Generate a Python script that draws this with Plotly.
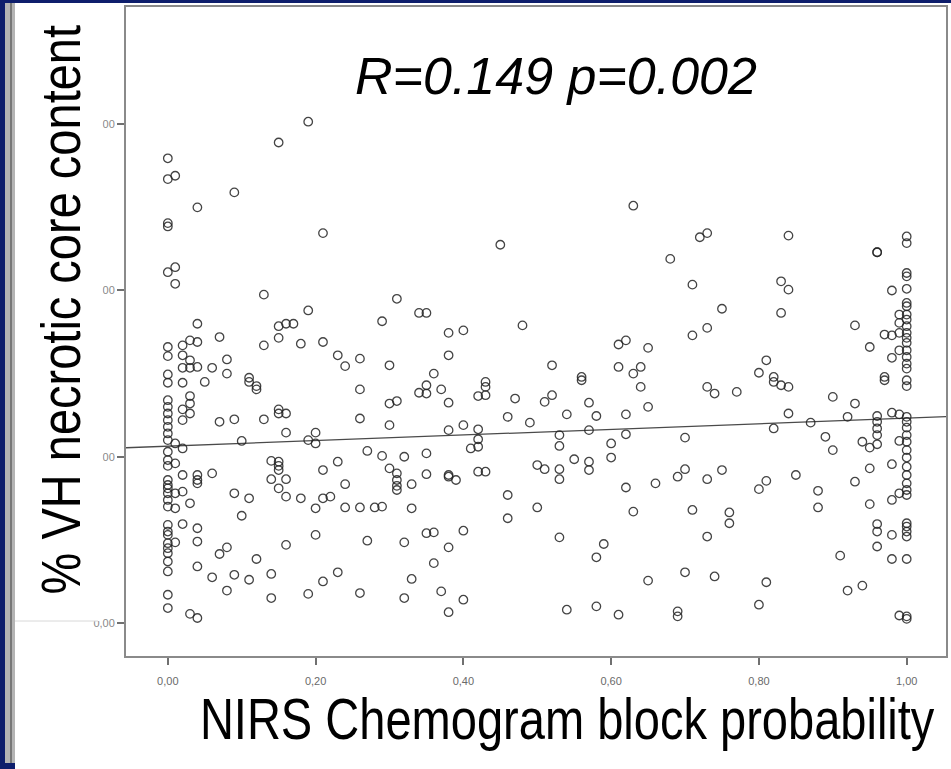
import plotly.graph_objects as go

# ---- data ----
# left cluster: (block probability, [necrotic core %, ...])
left_cluster = [
    (0.00, [55.9, 53.4, 48.1, 47.7, 42.2, 33.2, 32.1, 29.9, 28.9, 26.8, 26.0, 25.2, 24.4, 23.6,
            22.8, 22.0, 20.6, 19.6, 18.9, 17.2, 16.6, 16.2, 15.6, 14.8, 14.0, 11.8, 11.0, 10.6,
            9.6, 9.0, 8.4, 7.4, 6.2, 3.4, 1.8]),
    (0.01, [53.8, 42.8, 40.8, 21.6, 19.2, 15.6, 13.8, 9.7]),
    (0.02, [33.4, 32.2, 30.7, 28.9, 25.7, 24.4, 21.0, 17.8, 15.8, 11.9]),
    (0.03, [34.0, 31.6, 30.7, 27.3, 26.4, 25.2, 14.4, 1.1]),
    (0.04, [50.0, 36.0, 33.8, 30.8, 17.8, 17.2, 16.8, 11.4, 9.8, 6.8, 0.6]),
    (0.05, [29.0]),
    (0.06, [30.7, 18.0, 5.5]),
    (0.07, [34.4, 24.2, 8.3]),
    (0.08, [31.7, 30.0, 9.1, 3.9]),
    (0.09, [51.8, 24.5, 15.6, 5.8]),
]

middle = [
    (0.10, [21.9, 12.9]),
    (0.11, [29.5, 29.0, 15.0, 5.2]),
    (0.12, [28.5, 28.1, 7.7]),
    (0.13, [39.5, 33.4, 24.5]),
    (0.14, [19.5, 17.3, 5.9, 3.0]),
    (0.15, [57.8, 35.7, 34.3, 25.7, 25.2, 19.4, 18.9, 18.4, 16.2]),
    (0.16, [36.0, 25.2, 22.9, 17.3, 15.2, 9.4]),
    (0.17, [36.0]),
    (0.18, [33.6, 15.0]),
    (0.19, [60.3, 37.6, 22.0, 3.5]),
    (0.20, [22.9, 21.6, 13.8, 10.6]),
    (0.21, [46.9, 33.8, 18.4, 15.0, 5.0]),
    (0.22, [15.2]),
    (0.23, [32.2, 19.4, 6.1]),
    (0.24, [30.9, 16.7, 13.9]),
    (0.26, [31.8, 28.1, 24.6, 13.9, 3.6]),
    (0.27, [20.7, 9.9]),
    (0.28, [13.9]),
    (0.29, [36.3, 20.1, 14.0]),
    (0.30, [31.0, 26.4, 23.8, 18.6]),
    (0.31, [39.0, 26.7, 18.0, 17.2, 16.5, 16.0]),
    (0.32, [20.0, 9.7, 3.0]),
    (0.33, [16.7, 13.8, 5.3]),
    (0.34, [27.7, 37.3]),
    (0.35, [37.3, 28.6, 27.6, 20.4, 17.9, 10.8]),
    (0.36, [30.0, 10.9, 7.2]),
    (0.37, [28.1, 3.8]),
    (0.38, [34.9, 32.2, 26.5, 23.2, 17.8, 17.6, 9.1, 1.3]),
    (0.39, [17.2]),
    (0.40, [35.2, 23.8, 11.1, 2.8]),
    (0.41, [21.0]),
    (0.42, [27.3, 23.3, 22.1, 21.2, 18.2]),
    (0.43, [29.0, 28.4, 27.4, 18.2]),
    (0.45, [45.5]),
    (0.46, [24.8, 15.4, 12.6]),
    (0.47, [27.0]),
    (0.48, [35.8]),
    (0.49, [24.1]),
    (0.50, [19.0, 13.9]),
    (0.51, [26.6, 18.5]),
    (0.52, [31.0, 27.4]),
    (0.53, [22.6, 21.3, 18.5, 17.3, 10.3]),
    (0.54, [25.1, 1.6]),
    (0.55, [19.7]),
    (0.56, [29.6, 29.2]),
    (0.57, [26.5, 23.2, 19.4, 18.4]),
    (0.58, [24.9, 7.9, 2.0]),
    (0.59, [9.5]),
    (0.60, [21.6, 19.9]),
    (0.61, [33.5, 30.8, 1.0]),
    (0.62, [34.0, 25.1, 22.7, 16.3]),
    (0.63, [50.2, 30.0, 13.4]),
    (0.64, [30.8, 28.4]),
    (0.65, [33.1, 26.0, 5.1]),
    (0.66, [16.8]),
    (0.68, [43.8]),
    (0.69, [17.6, 1.4, 0.8]),
    (0.70, [22.3, 18.5, 6.1]),
    (0.71, [40.7, 34.6, 13.6]),
    (0.72, [46.4]),
    (0.73, [46.9, 35.5, 28.4, 17.3, 10.4]),
    (0.74, [27.6, 5.6]),
    (0.75, [37.8, 18.4]),
    (0.76, [13.3, 12.0]),
    (0.77, [27.8]),
    (0.80, [30.1, 16.1, 2.2]),
    (0.81, [31.6, 17.1, 4.9]),
    (0.82, [29.6, 29.0, 23.4]),
    (0.83, [41.1, 37.3, 28.6]),
    (0.84, [46.6, 40.1, 28.4, 25.2]),
    (0.85, [17.8]),
    (0.87, [24.1]),
    (0.88, [15.9, 13.9]),
    (0.89, [22.4]),
    (0.90, [27.2, 20.8]),
    (0.91, [8.1]),
    (0.92, [24.8, 3.9]),
    (0.93, [35.8, 26.4, 17.0]),
    (0.94, [21.8, 4.5]),
]

right_cluster = [
    (0.95, [33.2, 21.1, 18.6, 14.3]),
    (0.96, [44.6, 44.6, 24.9, 24.2, 23.4, 22.6, 21.5, 11.9, 11.0, 9.2]),
    (0.97, [34.7, 29.6, 29.2]),
    (0.98, [40.0, 34.6, 31.9, 25.3, 19.1, 14.8, 10.6, 7.7]),
    (0.99, [37.1, 36.1, 34.9, 32.8, 25.1, 21.9, 15.6, 0.9]),
    (1.00, [46.5, 45.7, 42.1, 41.7, 40.2, 38.5, 38.1, 37.1, 36.5, 35.7, 34.9, 34.3, 33.7, 32.8,
            32.0, 31.2, 30.6, 29.2, 28.5, 24.8, 24.2, 23.5, 22.6, 21.8, 20.8, 19.9, 18.8, 17.8,
            16.8, 16.0, 15.4, 12.0, 11.6, 11.0, 10.4, 7.7, 0.8, 0.5]),
]

fit_intercept = 21.27
fit_slope = 3.37

x_tick_vals = [0.0, 0.2, 0.4, 0.6, 0.8, 1.0]
x_tick_text = ["0,00", "0,20", "0,40", "0,60", "0,80", "1,00"]
y_tick_vals = [0, 20, 40, 60]
y_tick_text = ["0,00", "20,00", "40,00", "60,00"]

stat_text = "R=0.149 p=0.002"
y_title = "% VH necrotic core content"
x_title = "NIRS Chemogram block probability"

x_range = [-0.0566, 1.0532]
y_range = [-3.97, 74.1]

# ---- build ----
xs, ys = [], []
for group in (left_cluster, middle, right_cluster):
    for xv, yvals in group:
        for yv in yvals:
            xs.append(xv)
            ys.append(yv)

W, H = 951, 769
def px(x):
    return x / W
def py(y):
    return 1 - y / H

fig = go.Figure()
fig.add_trace(go.Scatter(
    x=x_range, y=[fit_intercept + fit_slope * v for v in x_range],
    mode="lines", line=dict(color="#4a4a4a", width=1.3), hoverinfo="skip", showlegend=False))
fig.add_trace(go.Scatter(
    x=xs, y=ys, mode="markers",
    marker=dict(symbol="circle-open", size=8.5, color="rgba(35,35,35,0.85)", line=dict(width=1.3)),
    showlegend=False))

sans = "Liberation Sans, Arial, sans-serif"

fig.update_layout(
    width=W, height=H, autosize=False,
    margin=dict(l=0, r=0, t=0, b=0),
    paper_bgcolor="#0e1e6c",
    plot_bgcolor="white",
    xaxis=dict(domain=[px(126), px(946)], range=x_range, tickvals=x_tick_vals, ticktext=x_tick_text,
               ticks="outside", ticklen=7, tickwidth=1.5, tickcolor="#707070",
               ticklabelstandoff=7,
               showline=True, linecolor="#8a8a8a", linewidth=2, mirror=True,
               showgrid=False, zeroline=False,
               tickfont=dict(family=sans, size=11, color="#6a6a6a")),
    yaxis=dict(domain=[py(656), py(7)], range=y_range, tickvals=y_tick_vals, ticktext=y_tick_text,
               ticks="outside", ticklen=7, tickwidth=1.5, tickcolor="#707070",
               showline=True, linecolor="#8a8a8a", linewidth=2, mirror=True,
               showgrid=False, zeroline=False,
               tickfont=dict(family=sans, size=11, color="#8a8a8a")),
    shapes=[
        dict(type="rect", xref="paper", yref="paper", x0=px(15), x1=1, y0=0, y1=py(3),
             fillcolor="white", line=dict(width=0), layer="below"),
        dict(type="rect", xref="paper", yref="paper", x0=px(5), x1=px(15), y0=py(763), y1=py(3),
             fillcolor="#b4b4b4", line=dict(width=0), layer="below"),
        dict(type="rect", xref="paper", yref="paper", x0=px(10), x1=px(12), y0=py(763), y1=py(3),
             fillcolor="#777777", line=dict(width=0), layer="below"),
        dict(type="rect", xref="paper", yref="paper", x0=px(15), x1=px(102.5), y0=py(621), y1=py(3),
             fillcolor="white", line=dict(width=0), layer="above"),
        dict(type="line", xref="paper", yref="paper", x0=px(15), x1=px(98), y0=py(621), y1=py(621),
             line=dict(color="#d8d8d8", width=1), layer="above"),
    ],
    annotations=[
        dict(text=stat_text, xref="paper", yref="paper", x=px(556), y=py(76),
             xanchor="center", yanchor="middle", showarrow=False,
             font=dict(family=sans, size=52, color="black", style="italic")),
        dict(text=y_title, xref="paper", yref="paper", x=px(60), y=py(310),
             xanchor="center", yanchor="middle", showarrow=False, textangle=-90,
             font=dict(family=sans, size=56, color="black")),
        dict(text=x_title, xref="paper", yref="paper", x=px(567), y=py(719),
             xanchor="center", yanchor="middle", showarrow=False,
             font=dict(family=sans, size=57, color="black")),
    ],
)

# condense the two axis titles horizontally (Arial Narrow look) to their reference lengths
post = """
var gd = document.getElementById('{plot_id}');
document.body.style.margin = '0';
document.body.style.overflow = 'hidden';
function squeeze(idx, target) {
  var g = gd.querySelector('.annotation[data-index="' + idx + '"]');
  if (!g) return;
  var t = g.querySelector('text');
  if (!t) return;
  var b = t.getBBox();
  if (!b.width) return;
  var s = target / b.width;
  var cx = b.x + b.width / 2, cy = b.y + b.height / 2;
  var old = t.getAttribute('transform') || '';
  t.setAttribute('transform', old + ' translate(' + cx + ',' + cy + ') scale(' + s + ',1) translate(' + (-cx) + ',' + (-cy) + ')');
}
squeeze(1, 570);
squeeze(2, 735);
"""

fig.write_html("out.html", config={"displayModeBar": False}, post_script=post)
